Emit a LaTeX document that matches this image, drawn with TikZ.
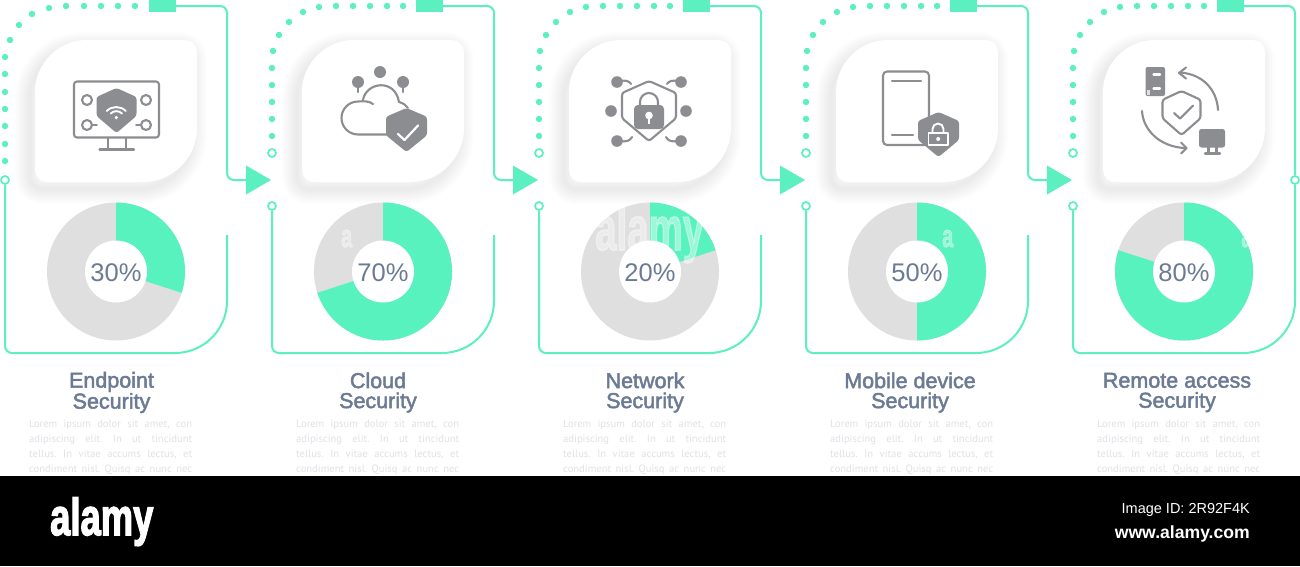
\documentclass[tikz,border=0pt]{standalone}
\usepackage{fontspec}
\setmainfont{Liberation Sans}
\newfontfamily\ttlfont[FakeBold=2.2]{Liberation Sans}
\newfontfamily\logofont[FakeBold=3]{Liberation Sans Bold}
\newfontfamily\bodyfont{PT Sans}
\definecolor{gline}{HTML}{5CEFC0}
\definecolor{gfill}{HTML}{58F2BE}
\definecolor{donutgrey}{HTML}{DFDFDF}
\definecolor{slate}{HTML}{6C7B94}
\definecolor{icon}{HTML}{8C8D91}
\definecolor{lorem}{HTML}{DFE2E6}
\tikzset{
 gl/.style={draw=gline,line width=2pt},
 gdot/.style={circle,fill=gline,inner sep=0pt,minimum size=6.4pt},
 gring/.style={circle,draw=gline,line width=1.7pt,fill=white,inner sep=0pt,minimum size=8pt},
 gsq/.style={rectangle,fill=gline,inner sep=0pt,minimum width=27pt,minimum height=12pt},
 ttl/.style={text=slate,align=center,inner sep=0pt,font=\ttlfont\fontsize{21.5}{20}\selectfont},
 pct/.style={text=slate,inner sep=0pt,font=\fontsize{25.5}{26}\selectfont},
 bodytxt/.style={text=lorem,anchor=north west,inner sep=0pt,align=left,font=\bodyfont\frenchspacing\fontsize{10.6}{15}\selectfont},
 il/.style={draw=icon,line width=2.1pt,line cap=round,line join=round},
 il2/.style={draw=icon,line width=1.6pt,line cap=round,line join=round},
 ifl/.style={fill=icon},
 wl/.style={draw=white,line width=1.9pt,line cap=round,line join=round},
 wm/.style={text=white,text opacity=0.4,inner sep=0pt,font=\logofont}
}
\newcommand\shieldF[4]{\fill[ifl,rounded corners=2.5pt] (#1,#2) -- (#1+#3,#2+0.2*#4) -- (#1+#3,#2+0.62*#4) -- (#1,#2+#4) -- (#1-#3,#2+0.62*#4) -- (#1-#3,#2+0.2*#4) -- cycle;}
\newcommand\shieldL[4]{\draw[il,rounded corners=2.5pt] (#1,#2) -- (#1+#3,#2+0.2*#4) -- (#1+#3,#2+0.62*#4) -- (#1,#2+#4) -- (#1-#3,#2+0.62*#4) -- (#1-#3,#2+0.2*#4) -- cycle;}
\newcommand\cardshape[2]{\path[#2] (#1+52,40) -- (#1+150,40) arc[start angle=-90,end angle=0,radius=12] -- (#1+162,128) arc[start angle=0,end angle=90,radius=54] -- (#1+12,182) arc[start angle=90,end angle=180,radius=12] -- (#1,92) arc[start angle=180,end angle=270,radius=52] -- cycle;}
\begin{document}
\begin{tikzpicture}[x=1pt,y=1pt,yscale=-1]
\useasboundingbox (0,0) rectangle (1300,566);
\fill[white] (0,0) rectangle (1300,566);
% cards
\foreach \xo in {35,302,569,836,1103}{
 \begin{scope}[shift={(-5,7)}]
 \foreach \s in {3,6,...,30}{
  \cardshape{\xo}{draw=black,line width=\s pt,line join=round,opacity=0.007}
 }
 \end{scope}
 \cardshape{\xo}{fill=white}
}
% donuts
\foreach \i/\cx/\p in {1/116/30,2/383/70,3/650/20,4/917/50,5/1184/80}{
 \pgfmathsetmacro\ang{3.6*\p}
 \fill[donutgrey] (\cx,271.5) circle[radius=69];
 \fill[gfill] (\cx,271.5) -- ++(-90:69) arc[start angle=-90,delta angle=\ang,radius=69] -- cycle;
 \fill[white] (\cx,271.5) circle[radius=31];
 \node[pct] (pct\i) at (\cx,272.5) {\p\%};
}
% dotted arcs
\foreach \x/\y [count=\n] in {135/6,118/6,101/6,84/6,66/6,49/8,32/14,19/25,10/40,5/57,5/74,5/92,5/109,5/126,5/144,5/161}{
 \node[gdot] (d1n\n) at (\x,\y) {};
}
\foreach \m in {0,267,534,801}{
 \foreach \x/\y in {403/6,387/6,370/6,353/6,336/6,319/7,303/12,289/22,279/35,273/51,272/68,272/85,272/102,272/119,272/136}{
  \node[gdot] at (\x+\m,\y) {};
 }
}
% top frame parts
\foreach \i/\sx/\rx/\tx in {1/162.5/227/246,2/429.5/494/513,3/696.5/761/780,4/963.5/1028/1047}{
 \node[gsq] (sq\i) at (\sx,6) {};
 \coordinate (tri\i) at (\tx,180);
 \draw[gl,rounded corners=7pt] (sq\i.east) -- (\rx,6) -- (\rx,180) -- (tri\i);
 \fill[gline] (tri\i) ++(0,-14.5) -- ++(25,14.5) -- ++(-25,14.5) -- cycle;
}
\node[gsq] (sq5) at (1230.5,6) {};
\node[gring] (r5) at (1295,180) {};
\draw[gl,rounded corners=7pt] (sq5.east) -- (1295,6) -- (r5.north);
% open rings above arrows
\foreach \i/\x in {2/272,3/539,4/806,5/1073}{
 \node[gring] (top\i) at (\x,153) {};
 \node[gring] (low\i) at (\x,206) {};
}
\node[gring] (low1) at (5,180) {};
% lower frames
\foreach \i/\lx/\rx in {1/5/227,2/272/494,3/539/761,4/806/1028}{
 \draw[gl] (low\i.south) -- (\lx,346) arc[start angle=180,end angle=90,radius=7] -- (\rx-52,353) arc[start angle=90,end angle=0,radius=52] -- (\rx,235);
}
\draw[gl] (low5.south) -- (1073,346) arc[start angle=180,end angle=90,radius=7] -- (1243,353) arc[start angle=90,end angle=0,radius=52] -- (r5.south);
% titles
\node[ttl] (t1) at (111.5,392.5) {Endpoint\\Security};
\node[ttl] (t2) at (378,392.5) {Cloud\\Security};
\node[ttl] (t3) at (645,392.5) {Network\\Security};
\node[ttl] (t4) at (910,392.5) {Mobile device\\Security};
\node[ttl] (t5) at (1177,392.5) {Remote access\\Security};
% lorem
\foreach \i/\bx in {1/29,2/296,3/563,4/830,5/1097}{
 \node[bodytxt] (b\i) at (\bx,420) {\makebox[163pt][s]{Lorem ipsum dolor sit amet, con}\\\makebox[163pt][s]{adipiscing elit. In ut tincidunt}\\\makebox[163pt][s]{tellus. In vitae accums lectus, et}\\\makebox[163pt][s]{condiment nisl. Quisq ac nunc nec}};
}
% ICON 1 monitor
\draw[il,rounded corners=3pt] (74,81.5) rectangle (159,137.5);
\draw[il] (108,138) -- (108,149) (126,138) -- (126,149);
\draw[il] (99.5,149.5) -- (134,149.5);
\shieldF{116.5}{88}{20}{45}
\foreach \a/\b in {87/100,146/100,87/125,146/125}{\draw[il] (\a,\b) circle[radius=5];}
\draw[il2] (92,125) -- (97,125) (136,125) -- (141,125);
\draw[wl] (106.7,111) arc[start angle=225,end angle=315,radius=13.5];
\draw[wl] (110.7,113.5) arc[start angle=225,end angle=315,radius=8];
\fill[white] (116.3,117.5) circle[radius=1.8];
% ICON 2 cloud
\foreach \a/\b/\c in {358/82/92,403/82/92}{
 \fill[ifl] (\a,\b) circle[radius=6];
 \draw[il] (\a,\b) -- (\a,\c);
}
\fill[ifl] (380,72) circle[radius=6];
\draw[il] (387,134.5) -- (358,134.5) arc[start angle=90,end angle=270,radius=16.5] .. controls (364,101) and (369,101) .. (373,104);
\draw[il] (363,100) .. controls (366,82) and (395,78) .. (399,102) .. controls (403,103) and (406,105) .. (408,108);
\shieldF{406.5}{108}{20.5}{44}
\draw[wl,line width=2.2pt] (398,134) -- (404.5,140) -- (418,125.5);
% ICON 3 lock shield
\shieldL{649}{81}{27}{60}
\fill[ifl,rounded corners=4pt] (634,105) rectangle (664,129);
\draw[il] (640,106) -- (640,102) arc[start angle=180,end angle=360,radius=9] -- (658,106);
\fill[white] (649,115.5) circle[radius=3.8];
\draw[white,line width=2pt] (649,116) -- (649,123.5);
\foreach \a/\b in {617/82,681/82,611/111,686/111,617/141,681/141}{\fill[ifl] (\a,\b) circle[radius=5.8];}
\draw[il] (620,81) .. controls (626,80) and (629,81) .. (631,84);
\draw[il] (678,81) .. controls (672,80) and (669,81) .. (667,84);
\draw[il] (620,141) .. controls (626,142) and (630,141) .. (632,137);
\draw[il] (678,141) .. controls (672,142) and (668,141) .. (666,137);
% ICON 4 phone
\draw[il,rounded corners=4pt] (883,71.5) rectangle (929,145);
\draw[il] (892,81) -- (921,81) (892,135) -- (913,135);
\shieldF{938.5}{112}{20.5}{45}
\draw[wl] (928.5,133) rectangle (948,145);
\draw[wl] (932.5,132) -- (932.5,129) arc[start angle=180,end angle=360,radius=5.5] -- (943.5,132);
\fill[white] (938.2,139) circle[radius=2];
% ICON 5 remote
\fill[ifl,rounded corners=2pt] (1145.5,67) rectangle (1165,96);
\draw[wl,line width=2.4pt] (1153.5,74.5) -- (1160,74.5) (1153.5,88.5) -- (1160,88.5);
\fill[donutgrey] (1146.5,90) rectangle (1150,95);
\draw[il] (1218,110) .. controls (1217,90) and (1203,74) .. (1180,72.5);
\draw[il] (1186,67.5) -- (1179,73) -- (1186,78.5);
\draw[il] (1142,111) .. controls (1143,130) and (1160,147) .. (1185,148);
\draw[il] (1181,142.5) -- (1186.5,148) -- (1181,153.5);
\shieldL{1181.5}{91}{19}{44}
\draw[il] (1174,113) -- (1180,118.5) -- (1193,105.5);
\fill[ifl,rounded corners=2.5pt] (1199,129) rectangle (1225,147.5);
\draw[il] (1208.5,147) -- (1208.5,153) (1216.5,147) -- (1216.5,153) (1205,153.5) -- (1220,153.5);
% watermark
\node[wm,anchor=base west] (wm1) at (595,250) {\fontsize{62}{62}\selectfont\scalebox{0.62}[1]{alamy}};
\node[wm,anchor=base west] (wm2) at (341,247) {\fontsize{32}{32}\selectfont\scalebox{0.62}[1]{a}};
\node[wm,anchor=base west] (wm3) at (942,247) {\fontsize{32}{32}\selectfont\scalebox{0.62}[1]{a}};
\node[wm,anchor=base west] (wm4) at (1241,247) {\fontsize{32}{32}\selectfont\scalebox{0.62}[1]{a}};
% footer
\fill[black] (0,476) rectangle (1300,566);
\node[text=white,inner sep=0pt,anchor=base west,font=\logofont] (logo) at (50,535) {\fontsize{52}{52}\selectfont\scalebox{0.7}[1]{alamy}};
\node[text=white,inner sep=0pt,anchor=base east] (imgid) at (1250,513) {\fontsize{14.5}{15}\selectfont Image ID: 2R92F4K};
\node[text=white,inner sep=0pt,anchor=base east,font=\bfseries] (site) at (1250,538) {\fontsize{17.6}{17}\selectfont www.alamy.com};
\end{tikzpicture}
\end{document}
